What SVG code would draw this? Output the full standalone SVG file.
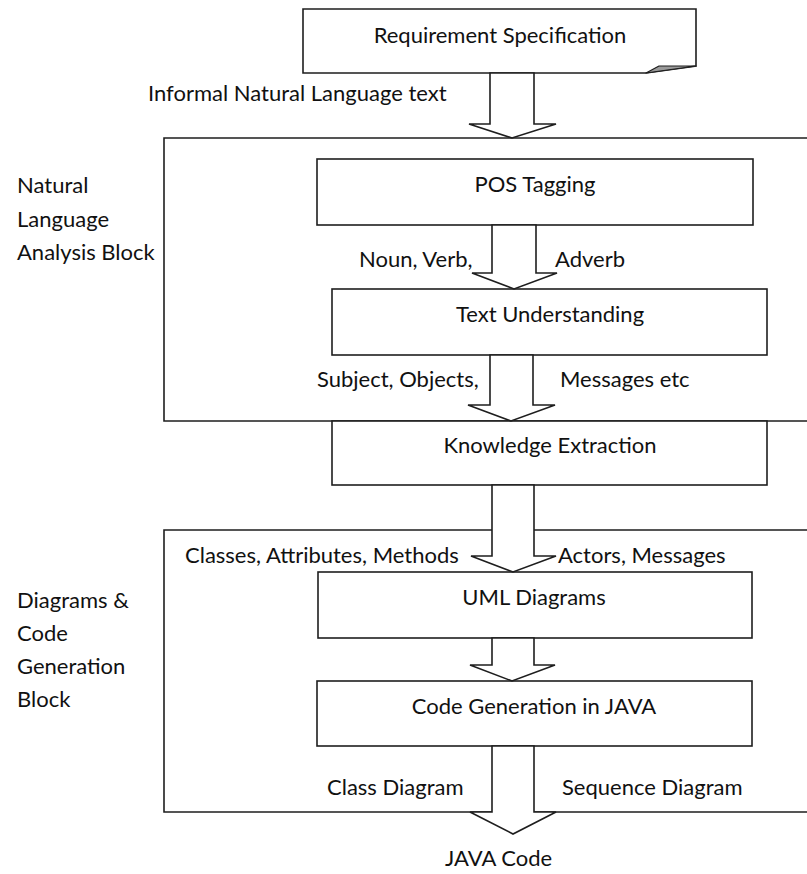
<svg xmlns="http://www.w3.org/2000/svg" width="807" height="874" viewBox="0 0 807 874">
  <style>
    .box { fill: #ffffff; stroke: #1e1e1e; stroke-width: 1.6; }
    .frame { fill: none; stroke: #1e1e1e; stroke-width: 1.6; }
    .arrow { fill: #ffffff; stroke: #1e1e1e; stroke-width: 1.6; stroke-linejoin: miter; }
    text { font-family: "Lato", "Liberation Sans", sans-serif; font-size: 22px; fill: #111111; }
    .c { text-anchor: middle; }
  </style>
  <rect width="807" height="874" fill="#ffffff"/>

  <!-- outer blocks (right side runs past the page edge) -->
  <g id="nl-block">
    <path class="frame" d="M810,138 H164 V421 H810"/>
    <text x="17" y="193">Natural</text>
    <text x="17" y="226.5">Language</text>
    <text x="17" y="260">Analysis Block</text>
  </g>
  <g id="code-block">
    <path class="frame" d="M810,530 H164 V812 H810"/>
    <text x="17" y="608">Diagrams &amp;</text>
    <text x="17" y="641">Code</text>
    <text x="17" y="674">Generation</text>
    <text x="17" y="707">Block</text>
  </g>

  <!-- document shape with curled corner -->
  <g id="requirement">
    <path class="box" d="M303,9 H696 V66 L646,73 H303 Z"/>
    <path d="M646,73 L659,66 L696,66 Z" fill="#9a9a9a" stroke="#1e1e1e" stroke-width="1.2" stroke-linejoin="round"/>
    <text class="c" x="500" y="43">Requirement Specification</text>
  </g>

  <g id="pos-tagging">
    <rect class="box" x="317" y="159" width="436" height="66"/>
    <text class="c" x="535" y="192">POS Tagging</text>
  </g>
  <g id="text-understanding">
    <rect class="box" x="332" y="289" width="435" height="66"/>
    <text class="c" x="550" y="322">Text Understanding</text>
  </g>
  <g id="knowledge-extraction">
    <rect class="box" x="332" y="421" width="435" height="64"/>
    <text class="c" x="550" y="453">Knowledge Extraction</text>
  </g>
  <g id="uml-diagrams">
    <rect class="box" x="318" y="572" width="434" height="66"/>
    <text class="c" x="534" y="605">UML Diagrams</text>
  </g>
  <g id="code-generation">
    <rect class="box" x="317" y="681" width="435" height="65"/>
    <text class="c" x="534" y="714">Code Generation in JAVA</text>
  </g>

  <!-- block arrows between stages -->
  <g id="connectors">
    <polygon class="arrow" points="490,73 490,124 469,124 512,138 556,124 534,124 534,73"/>
    <polygon class="arrow" points="492,225 492,273 472,273 514,289 557,273 536,273 536,225"/>
    <polygon class="arrow" points="490,355 490,405 468,405 511,421 555,405 533,405 533,355"/>
    <polygon class="arrow" points="492,485 492,556 471,556 513,572 556,556 534,556 534,485"/>
    <polygon class="arrow" points="492,638 492,665 470,665 512,681 555,665 534,665 534,638"/>
    <polygon class="arrow" points="492,746 492,812 470,812 513,834 556,812 534,812 534,746"/>
  </g>

  <!-- arrow labels -->
  <g id="labels">
    <text x="148" y="101">Informal Natural Language text</text>
    <text x="359" y="267">Noun, Verb,</text>
    <text x="555" y="267">Adverb</text>
    <text x="317" y="387">Subject, Objects,</text>
    <text x="560" y="387">Messages etc</text>
    <text x="185" y="563">Classes, Attributes, Methods</text>
    <text x="558" y="563">Actors, Messages</text>
    <text x="327" y="795">Class Diagram</text>
    <text x="562" y="795">Sequence Diagram</text>
    <text x="445" y="866">JAVA Code</text>
  </g>
</svg>
